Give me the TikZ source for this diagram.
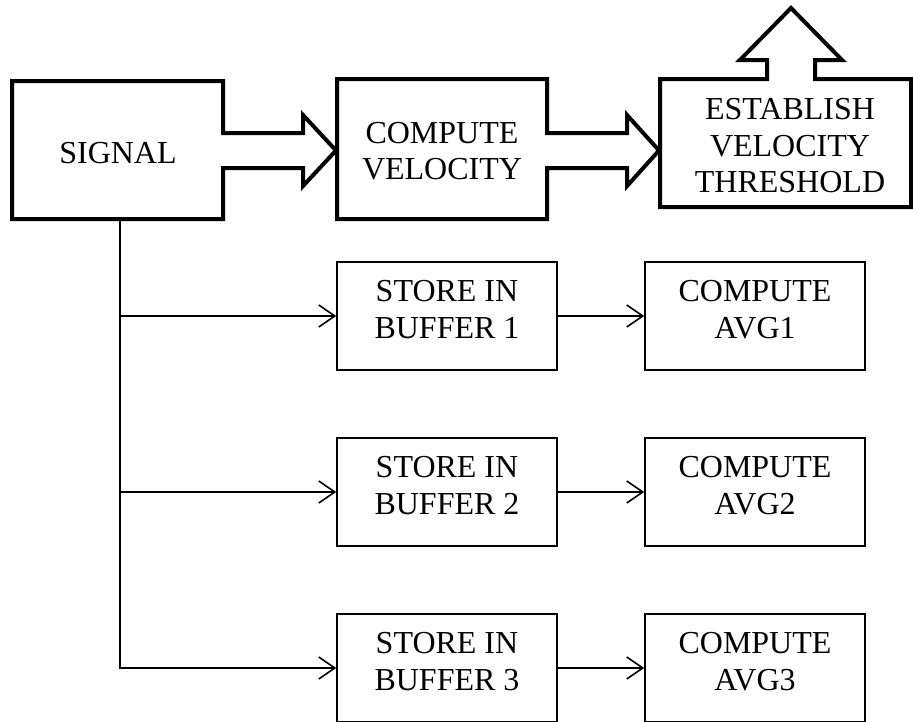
\documentclass[tikz,border=0pt]{standalone}
\usepackage{fontspec}
\setmainfont{Liberation Serif}
\usetikzlibrary{arrows.meta,calc}
\begin{document}
\begin{tikzpicture}[x=1pt,y=-1pt,
  thickline/.style={line width=4pt,line join=miter},
  smallbox/.style={draw,line width=1.6pt,minimum width=220pt,minimum height=108pt,inner sep=0pt},
  lbl/.style={align=center,inner sep=0pt,font=\fontsize{32}{36.5}\selectfont},
  conn/.style={line width=1.6pt,-{Straight Barb[length=16pt,width=22pt,line width=1.6pt]}}]
\useasboundingbox (0,0) rectangle (913,721);
\clip (0,0) rectangle (913,721);
% top row outlines
\draw[thickline] (12,81) -- (223,81) -- (223,133) -- (303,133) -- (303,115) -- (336,150.5)
  -- (303,186) -- (303,168) -- (223,168) -- (223,219) -- (12,219) -- cycle;
\draw[thickline] (337,79) -- (547,79) -- (547,133) -- (627,133) -- (627,115) -- (659,150.5)
  -- (627,186) -- (627,168) -- (547,168) -- (547,219) -- (337,219) -- cycle;
\draw[thickline] (660,79) -- (767,79) -- (767,60) -- (740,60) -- (791,8) -- (842,60)
  -- (815,60) -- (815,79) -- (911,79) -- (911,207) -- (660,207) -- cycle;
\node[lbl] (signal) at (118,153) {SIGNAL};
\node[lbl] (cv) at (442,151) {COMPUTE\\VELOCITY};
\node[lbl] (evt) at (790,146) {ESTABLISH\\VELOCITY\\THRESHOLD};
\coordinate (trunk) at (120,219);
% lower boxes
\node[smallbox] (b1) at (447,316) {};
\node[smallbox] (b2) at (447,492) {};
\node[smallbox] (b3) at (447,668) {};
\node[smallbox] (a1) at (755,316) {};
\node[smallbox] (a2) at (755,492) {};
\node[smallbox] (a3) at (755,668) {};
\node[lbl] (b1t) at ($(b1)+(0,-6.25)$) {STORE IN\\BUFFER 1};
\node[lbl] (b2t) at ($(b2)+(0,-6.25)$) {STORE IN\\BUFFER 2};
\node[lbl] (b3t) at ($(b3)+(0,-6.25)$) {STORE IN\\BUFFER 3};
\node[lbl] (a1t) at ($(a1)+(0,-6.25)$) {COMPUTE\\AVG1};
\node[lbl] (a2t) at ($(a2)+(0,-6.25)$) {COMPUTE\\AVG2};
\node[lbl] (a3t) at ($(a3)+(0,-6.25)$) {COMPUTE\\AVG3};
% connectors
\draw[conn] (trunk) |- (b3.west);
\draw[conn] (trunk |- b1.west) -- (b1.west);
\draw[conn] (trunk |- b2.west) -- (b2.west);
\draw[conn] (b1.east) -- (a1.west);
\draw[conn] (b2.east) -- (a2.west);
\draw[conn] (b3.east) -- (a3.west);
\end{tikzpicture}
\end{document}
